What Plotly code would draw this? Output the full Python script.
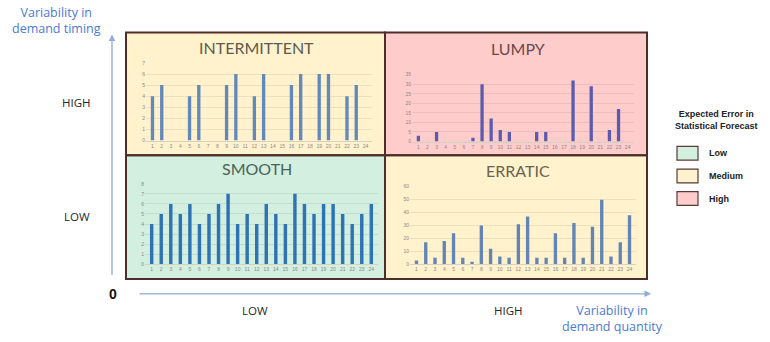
import plotly.graph_objects as go

W, H = 770, 342

periods = list(range(1, 25))
intermittent = [4, 5, 0, 0, 4, 5, 0, 0, 5, 6, 0, 4, 6, 0, 0, 5, 6, 0, 6, 6, 0, 4, 5, 0]
lumpy = [3, 0, 5, 0, 0, 0, 2, 30, 12, 6, 5, 0, 0, 5, 5, 0, 0, 32, 0, 29, 0, 6, 17, 0]
smooth = [4, 5, 6, 5, 6, 4, 5, 6, 7, 4, 5, 4, 6, 5, 4, 7, 6, 5, 6, 6, 5, 4, 5, 6]
erratic = [3, 17, 5, 18, 24, 5, 2, 30, 12, 6, 5, 31, 37, 5, 5, 24, 5, 32, 5, 29, 50, 6, 17, 38]

titles = ["INTERMITTENT", "LUMPY", "SMOOTH", "ERRATIC"]
legend_title = "Expected Error in<br>Statistical Forecast"
legend_labels = ["Low", "Medium", "High"]
legend_colors = ["#D2EFDF", "#FFF2CC", "#FFCCCC"]


def px(x):
    return x / W


def py(y):
    return 1 - y / H


quads = [
    dict(data=intermittent, ymax=7, dtick=1, color="#6388BA", xd=(146, 372), yd=(140, 61),
         bg="#FFF2CC", tc="#5E5A50", tpos=(256, 45), box=(126, 30, 385, 155)),
    dict(data=lumpy, ymax=35, dtick=5, color="#5B5BAE", xd=(412, 634), yd=(141, 73),
         bg="#FFCCCC", tc="#6A4848", tpos=(518, 46), box=(385, 30, 647, 155)),
    dict(data=smooth, ymax=8, dtick=1, color="#2E74B5", xd=(145, 378), yd=(266, 184),
         bg="#D2EFDF", tc="#4A6458", tpos=(257, 168), box=(126, 155, 385, 281)),
    dict(data=erratic, ymax=60, dtick=10, color="#6285B6", xd=(410, 636), yd=(266, 187),
         bg="#FFF2CC", tc="#6A6250", tpos=(518, 170), box=(385, 155, 647, 281)),
]

fig = go.Figure()
layout = dict(
    width=W, height=H, margin=dict(l=0, r=0, t=0, b=0),
    paper_bgcolor="white", plot_bgcolor="rgba(0,0,0,0)", showlegend=False,
)
shapes = []
annotations = []

for i, q in enumerate(quads):
    n = "" if i == 0 else str(i + 1)
    fig.add_trace(go.Bar(x=periods, y=q["data"], marker=dict(color=q["color"], line=dict(width=0)),
                         width=0.36, xaxis="x" + n, yaxis="y" + n))
    layout["xaxis" + n] = dict(
        domain=[px(q["xd"][0]), px(q["xd"][1])], range=[0.3, 24.7], anchor="y" + n,
        tickmode="array", tickvals=periods, ticktext=[str(p) for p in periods],
        tickfont=dict(size=5, color="#8a8a8a", family="Liberation Sans"), ticklen=0,
        showgrid=False, zeroline=False, showline=True, linecolor="#d8d0c0", linewidth=1,
        fixedrange=True,
    )
    layout["yaxis" + n] = dict(
        domain=[py(q["yd"][0]), py(q["yd"][1])], range=[0, q["ymax"]], anchor="x" + n,
        dtick=q["dtick"], tickfont=dict(size=5, color="#8a8a8a", family="Liberation Sans"),
        showgrid=True, gridcolor="rgba(0,0,0,0.07)", gridwidth=1, zeroline=False,
        ticklen=0, ticks="", fixedrange=True,
    )
    x0, y0, x1, y1 = q["box"]
    shapes.append(dict(type="rect", xref="paper", yref="paper", x0=px(x0), x1=px(x1),
                       y0=py(y1), y1=py(y0), fillcolor=q["bg"], line=dict(width=0), layer="below"))
    annotations.append(dict(text=titles[i], x=px(q["tpos"][0]), y=py(q["tpos"][1]),
                            xref="paper", yref="paper", showarrow=False,
                            font=dict(size=16, color=q["tc"], family="Lato"),
                            xanchor="center", yanchor="middle"))

border = "#4E2E2A"
for (x0, y0, x1, y1) in [q["box"] for q in quads]:
    shapes.append(dict(type="rect", xref="paper", yref="paper", x0=px(x0), x1=px(x1),
                       y0=py(y1), y1=py(y0), line=dict(color=border, width=2), layer="above"))

arrow_col = "#8FAADC"
annotations.append(dict(x=px(112), y=py(32), ax=0, ay=274 - 32,
                        xref="paper", yref="paper", text="", showarrow=True,
                        arrowhead=2, arrowsize=1, arrowwidth=1.3, arrowcolor=arrow_col))
annotations.append(dict(x=px(651), y=py(296), ax=138 - 651, ay=0,
                        xref="paper", yref="paper", text="", showarrow=True,
                        arrowhead=2, arrowsize=1, arrowwidth=1.3, arrowcolor=arrow_col))

lab_font = dict(size=11.5, color="#262626", family="Open Sans")
blue_font = dict(size=12.5, color="#4A7BD0", family="Open Sans")
texts = [
    ("Variability in<br>demand timing", 56, 18, blue_font),
    ("HIGH", 76, 101, lab_font),
    ("LOW", 77, 217, lab_font),
    ("LOW", 255, 313, lab_font),
    ("HIGH", 508, 313, lab_font),
    ("Variability in<br>demand quantity", 612, 321, blue_font),
]
for t, x, y, f in texts:
    annotations.append(dict(text=t, x=px(x), y=py(y), xref="paper", yref="paper",
                            showarrow=False, font=f, xanchor="center", yanchor="middle"))
annotations.append(dict(text="<b>0</b>", x=px(113), y=py(296), xref="paper", yref="paper",
                        showarrow=False, font=dict(size=14, color="#111", family="Liberation Sans"),
                        xanchor="center", yanchor="middle"))

leg_font = dict(size=9, color="#222", family="Liberation Sans")
annotations.append(dict(text="<b>" + legend_title.replace("<br>", "</b><br><b>") + "</b>",
                        x=px(716), y=py(119), xref="paper", yref="paper",
                        showarrow=False, font=leg_font, xanchor="center", yanchor="middle"))
for k, (lab, col) in enumerate(zip(legend_labels, legend_colors)):
    yc = 153 + 23 * k
    shapes.append(dict(type="rect", xref="paper", yref="paper", x0=px(677), x1=px(698),
                       y0=py(yc + 7), y1=py(yc - 7), fillcolor=col,
                       line=dict(color="#5a3a34", width=1.2)))
    annotations.append(dict(text="<b>" + lab + "</b>", x=px(707), y=py(yc), xref="paper", yref="paper",
                            showarrow=False, font=leg_font, xanchor="left", yanchor="middle"))

layout["shapes"] = shapes
layout["annotations"] = annotations
fig.update_layout(**layout)
fig.write_html("out.html")
